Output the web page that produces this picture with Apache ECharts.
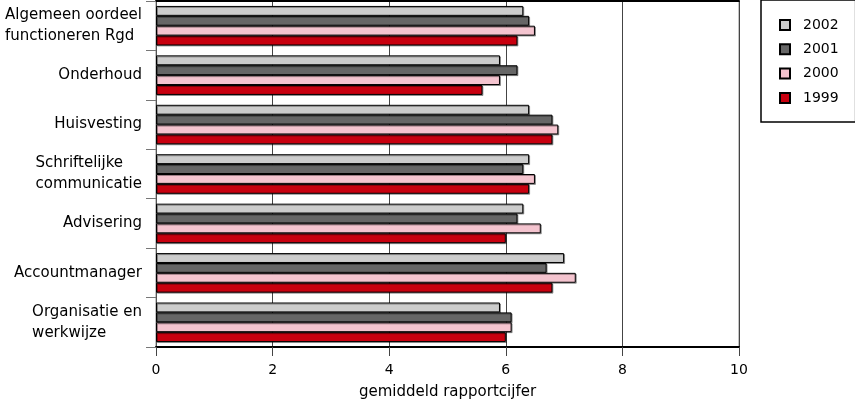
<!DOCTYPE html>
<html>
<head>
<meta charset="utf-8">
<script src="https://cdn.jsdelivr.net/npm/echarts@6/dist/echarts.min.js"></script>
<style>html,body{margin:0;padding:0;background:#fff;}#c{width:855px;height:405px;}</style>
</head>
<body>
<div id="c"></div>
<script>
const categories = [
  "Algemeen oordeel\nfunctioneren Rgd",
  "Onderhoud",
  "Huisvesting",
  "Schriftelijke\ncommunicatie",
  "Advisering",
  "Accountmanager",
  "Organisatie en\nwerkwijze"
];
const years = ["2002", "2001", "2000", "1999"];
const v2002 = [6.3, 5.9, 6.4, 6.4, 6.3, 7.0, 5.9];
const v2001 = [6.4, 6.2, 6.8, 6.3, 6.2, 6.7, 6.1];
const v2000 = [6.5, 5.9, 6.9, 6.5, 6.6, 7.2, 6.1];
const v1999 = [6.2, 5.6, 6.8, 6.4, 6.0, 6.8, 6.0];
const xTicks = [0, 2, 4, 6, 8, 10];
const axisTitle = "gemiddeld rapportcijfer";

const values = [v2002, v2001, v2000, v1999];
const colors = ["#cccccc", "#666666", "#f4c4cf", "#c8000f"];

const chart = echarts.init(document.getElementById('c'), null, {renderer: 'canvas'});
const font = "DejaVu Sans";
chart.setOption({
  animation: false,
  backgroundColor: '#fff',
  textStyle: {fontFamily: font},
  grid: {left: 156, top: 1, width: 583, height: 350, show: true, borderColor: '#888', borderWidth: 1, backgroundColor: 'transparent'},
  legend: {
    orient: 'vertical',
    left: 761, top: 0,
    padding: [18, 17, 17, 18],
    icon: 'rect',
    itemWidth: 10, itemHeight: 10, itemGap: 10.3,
    borderColor: '#000', borderWidth: 1.5,
    textStyle: {fontFamily: font, fontSize: 14, color: '#000', padding: [0, 0, 0, 8]},
    data: years
  },
  xAxis: [{
    type: 'value', min: xTicks[0], max: xTicks[xTicks.length - 1], interval: 2,
    position: 'bottom',
    name: axisTitle, nameLocation: 'middle', nameGap: 38,
    nameTextStyle: {fontFamily: font, fontSize: 15, color: '#000'},
    axisLine: {show: true, lineStyle: {color: '#000', width: 2}},
    axisTick: {show: true, length: 9, lineStyle: {color: '#444'}},
    axisLabel: {fontFamily: font, fontSize: 14, color: '#000', margin: 16,
      formatter: v => xTicks.includes(v) ? String(v) : ''},
    splitLine: {show: true, lineStyle: {color: '#444', width: 1}}
  }, {
    type: 'value', min: xTicks[0], max: xTicks[xTicks.length - 1], interval: 2,
    position: 'top',
    axisLine: {show: true, lineStyle: {color: '#000', width: 2}},
    axisTick: {show: false}, axisLabel: {show: false}, splitLine: {show: false}
  }],
  yAxis: {
    type: 'category', inverse: true, data: categories,
    axisLine: {show: true, lineStyle: {color: '#555', width: 1}},
    axisTick: {show: true, length: 10, lineStyle: {color: '#777'}},
    axisLabel: {
      margin: 14,
      formatter: v => v.split('\n').map(s => '{a|' + s + '}').join('\n'),
      rich: {a: {fontFamily: font, fontSize: 15, color: '#000', lineHeight: 21, align: 'left'}}
    }
  },
  series: years.map((y, i) => ({
    name: y, type: 'bar', xAxisIndex: 0,
    data: values[i],
    barGap: '0%', barCategoryGap: '20%',
    itemStyle: {color: colors[i], borderColor: '#000', borderWidth: 1,
      shadowColor: 'rgba(0,0,0,0.35)', shadowOffsetX: 1, shadowOffsetY: 1, shadowBlur: 0}
  }))
});
</script>
</body>
</html>
